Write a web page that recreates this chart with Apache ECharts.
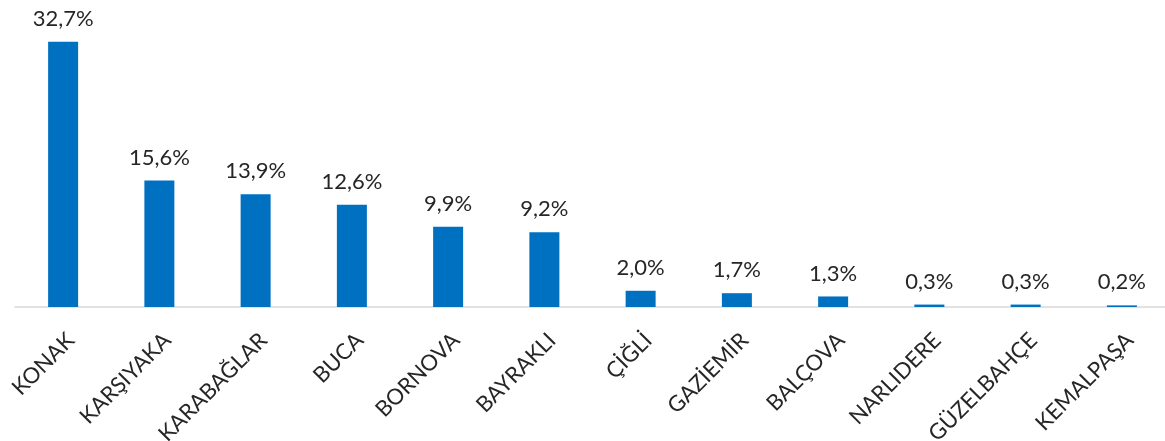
<!DOCTYPE html>
<html><head><meta charset="utf-8">
<script src="https://cdn.jsdelivr.net/npm/echarts@6/dist/echarts.min.js"></script>
<style>html,body{margin:0;padding:0;background:#fff}#c{width:1165px;height:441px}</style>
</head><body><div id="c"></div>
<script>
const categories = ["KONAK","KARŞIYAKA","KARABAĞLAR","BUCA","BORNOVA","BAYRAKLI","ÇİĞLİ","GAZİEMİR","BALÇOVA","NARLIDERE","GÜZELBAHÇE","KEMALPAŞA"];
const values = [32.7, 15.6, 13.9, 12.6, 9.9, 9.2, 2.0, 1.7, 1.3, 0.3, 0.3, 0.2];

const chart = echarts.init(document.getElementById('c'));
chart.setOption({
  animation: false,
  grid: {left: 15, width: 1155, top: 23, bottom: 134, containLabel: false, outerBoundsMode: 'none'},
  xAxis: {
    type: 'category', data: categories,
    axisLine: {lineStyle: {color: '#d9d9d9', width: 1.5}},
    axisTick: {show: false},
    axisLabel: {interval: 0, rotate: 45, margin: 22, verticalAlign: 'top', fontFamily: 'Lato', fontSize: 22, color: '#262626'}
  },
  yAxis: {type: 'value', min: 0, max: 35, show: false, splitLine: {show: false}},
  series: [{
    type: 'bar', data: values, barWidth: 30,
    itemStyle: {color: '#0070C0'},
    label: {show: true, position: 'top', distance: 12, fontFamily: 'Lato', fontSize: 22, color: '#262626',
      formatter: p => p.value.toFixed(1).replace('.', ',') + '%'}
  }]
});
</script></body></html>
